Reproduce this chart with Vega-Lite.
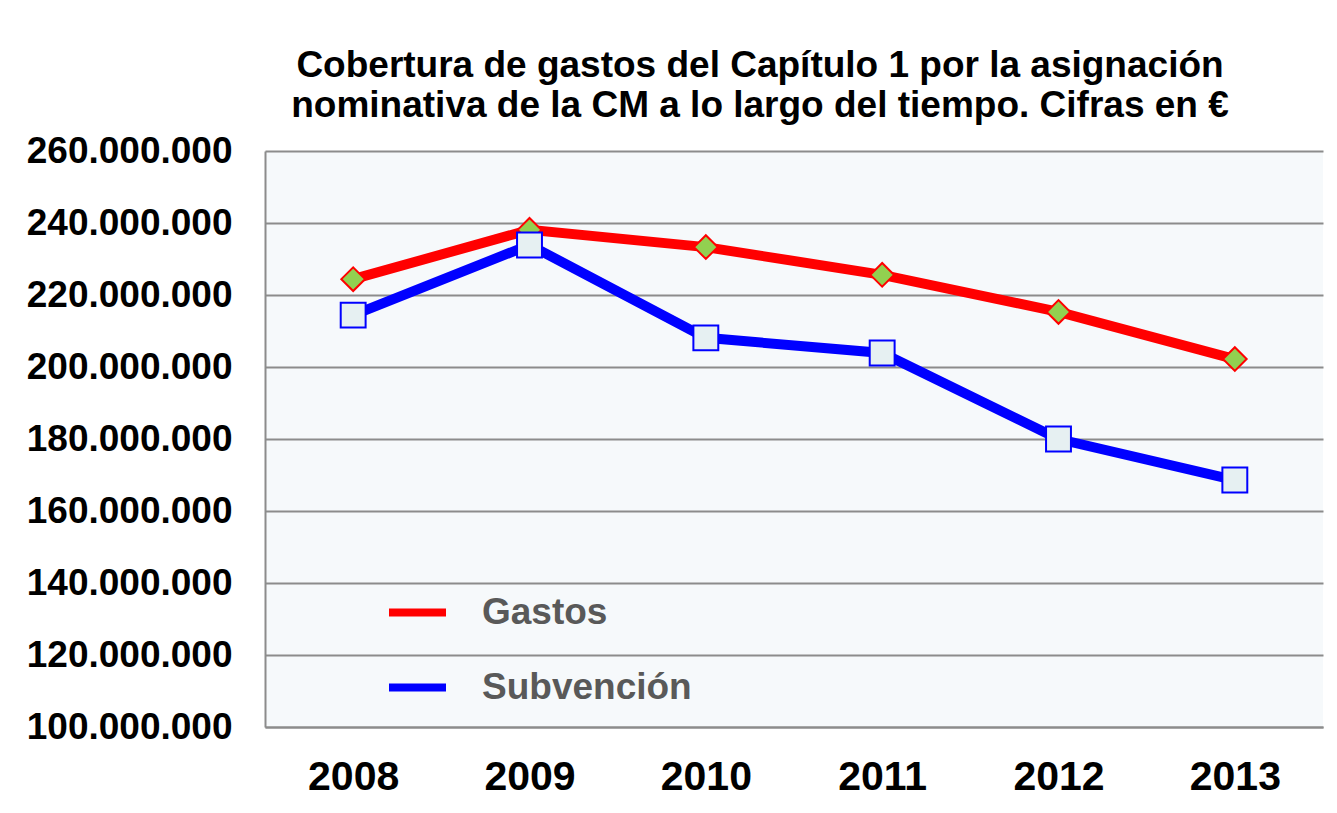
{
  "$schema": "https://vega.github.io/schema/vega-lite/v6.json",
  "width": 1058,
  "height": 576,
  "autosize": {"type": "none"},
  "padding": {"left": 265, "top": 151, "right": 14, "bottom": 86},
  "background": "#ffffff",
  "config": {
    "locale": {"number": {"decimal": ",", "thousands": ".", "grouping": [3], "currency": ["", " €"]}},
    "font": "Liberation Sans",
    "view": {"fill": "#F6F9FB", "stroke": null}
  },
  "title": {
    "text": ["Cobertura de gastos del Capítulo 1 por la asignación", "nominativa de la CM a lo largo del tiempo. Cifras en €"],
    "font": "Liberation Sans",
    "fontSize": 37,
    "fontWeight": "bold",
    "color": "#000000",
    "anchor": "middle",
    "dx": -34,
    "lineHeight": 40,
    "offset": 7
  },
  "data": {
    "values": [
      {"anio": "2008", "serie": "Gastos", "valor": 224400000},
      {"anio": "2009", "serie": "Gastos", "valor": 238100000},
      {"anio": "2010", "serie": "Gastos", "valor": 233300000},
      {"anio": "2011", "serie": "Gastos", "valor": 225600000},
      {"anio": "2012", "serie": "Gastos", "valor": 215300000},
      {"anio": "2013", "serie": "Gastos", "valor": 202200000},
      {"anio": "2008", "serie": "Subvención", "valor": 214400000},
      {"anio": "2009", "serie": "Subvención", "valor": 233900000},
      {"anio": "2010", "serie": "Subvención", "valor": 208100000},
      {"anio": "2011", "serie": "Subvención", "valor": 203900000},
      {"anio": "2012", "serie": "Subvención", "valor": 180000000},
      {"anio": "2013", "serie": "Subvención", "valor": 168600000}
    ]
  },
  "encoding": {
    "x": {
      "field": "anio",
      "type": "ordinal",
      "scale": {"type": "point", "padding": 0.5},
      "axis": {
        "title": null,
        "labelAngle": 0,
        "labelFont": "Liberation Sans",
        "labelFontSize": 41,
        "labelFontWeight": "bold",
        "labelColor": "#000000",
        "labelPadding": 30,
        "ticks": false,
        "domain": true,
        "domainColor": "#8C8C8C",
        "domainWidth": 2,
        "grid": false
      }
    },
    "y": {
      "field": "valor",
      "type": "quantitative",
      "scale": {"domain": [100000000, 260000000], "nice": false, "zero": false},
      "axis": {
        "title": null,
        "values": [100000000, 120000000, 140000000, 160000000, 180000000, 200000000, 220000000, 240000000, 260000000],
        "format": ",.0f",
        "labelFont": "Liberation Sans",
        "labelFontSize": 37,
        "labelFontWeight": "bold",
        "labelColor": "#000000",
        "labelPadding": 33,
        "labelLimit": 400,
        "ticks": false,
        "domain": true,
        "domainColor": "#8C8C8C",
        "domainWidth": 2,
        "grid": true,
        "gridColor": "#8C8C8C",
        "gridWidth": 2,
        "gridOpacity": 1
      }
    }
  },
  "layer": [
    {
      "mark": {"type": "line", "strokeWidth": 10},
      "encoding": {
        "color": {
          "field": "serie",
          "type": "nominal",
          "scale": {"domain": ["Gastos", "Subvención"], "range": ["#FF0000", "#0000FF"]},
          "legend": {
            "title": null,
            "orient": "none",
            "legendX": 120,
            "legendY": 429,
            "symbolType": "stroke",
            "symbolSize": 3249,
            "symbolStrokeWidth": 8,
            "labelFont": "Liberation Sans",
            "labelFontSize": 37,
            "labelFontWeight": "bold",
            "labelColor": "#595959",
            "labelOffset": 32,
            "labelLimit": 400,
            "rowPadding": 24,
            "padding": 0
          }
        }
      }
    },
    {
      "transform": [{"filter": "datum.serie === 'Gastos'"}],
      "mark": {"type": "point", "shape": "diamond", "size": 560, "filled": true, "fill": "#92D050", "stroke": "#FF0000", "strokeWidth": 2, "opacity": 1}
    },
    {
      "transform": [{"filter": "datum.serie === 'Subvención'"}],
      "mark": {"type": "point", "shape": "square", "size": 620, "filled": true, "fill": "#E6F0F2", "stroke": "#0000FF", "strokeWidth": 2, "opacity": 1}
    }
  ]
}
